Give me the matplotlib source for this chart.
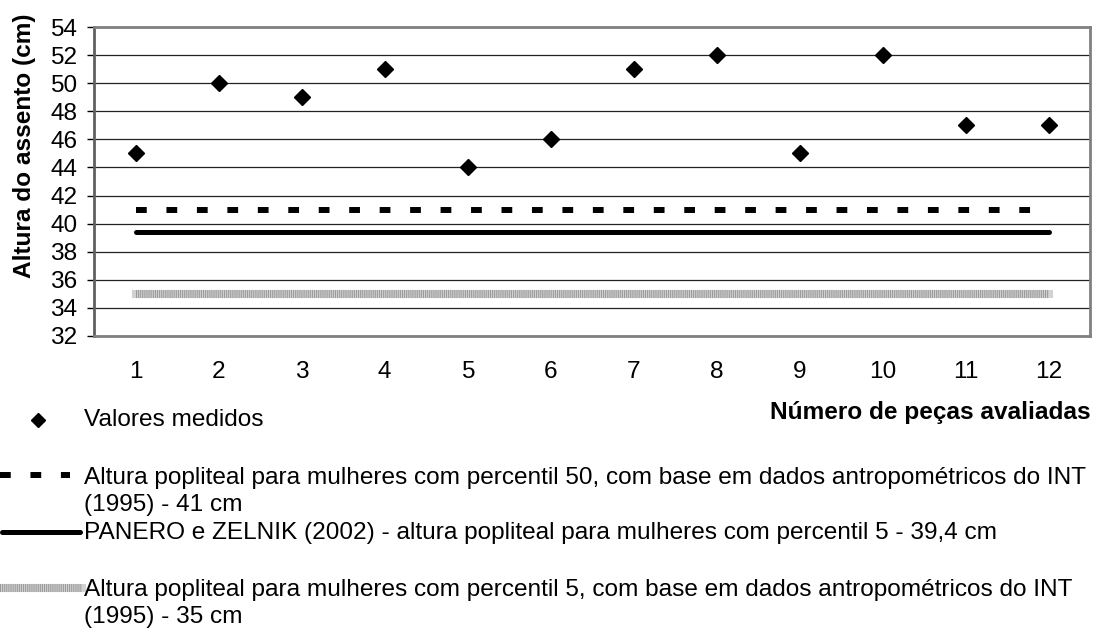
import matplotlib.pyplot as plt
from matplotlib.lines import Line2D

plt.rcParams['font.family'] = ['Liberation Sans', 'DejaVu Sans']

# data
pecas = [1, 2, 3, 4, 5, 6, 7, 8, 9, 10, 11, 12]
valores_medidos = [45, 50, 49, 51, 44, 46, 51, 52, 45, 52, 47, 47]
int_p50 = 41.0
panero_p5 = 39.4
int_p5 = 35.0

labels = [
    "Valores medidos",
    "Altura popliteal para mulheres com percentil 50, com base em dados antropométricos do INT\n(1995) - 41 cm",
    "PANERO e ZELNIK (2002) - altura popliteal para mulheres com percentil 5 - 39,4 cm",
    "Altura popliteal para mulheres com percentil 5, com base em dados antropométricos do INT\n(1995) - 35 cm",
]

W, H = 1094, 630
fig = plt.figure(figsize=(W / 100, H / 100), dpi=100)
ax = fig.add_axes([94 / W, 1 - 336 / H, (1090 - 94) / W, (336 - 27) / H])

FS = 17.6
dash_style = dict(color='black', lw=4.3, dashes=(1.8, 3.3), solid_capstyle='butt',
                  dash_capstyle='butt')
solid_style = dict(color='black', lw=3.6, solid_capstyle='round')
gray_base = dict(color='#d2d2d2', lw=5.8, solid_capstyle='projecting')
gray_stripe = dict(color='#9a9a9a', lw=5.8, dashes=(0.13, 0.13), dash_capstyle='butt')

ax.plot([pecas[0], pecas[-1]], [int_p5] * 2, **gray_base, zorder=2)
ax.plot([pecas[0], pecas[-1]], [int_p5] * 2, **gray_stripe, zorder=2)
ax.plot([pecas[0], pecas[-1]], [panero_p5] * 2, **solid_style, zorder=3)
ax.plot([pecas[0], pecas[-1]], [int_p50] * 2, **dash_style, zorder=3)
ax.plot(pecas, valores_medidos, 'D', color='black', ms=7.8, zorder=4)

ax.set_xlim(0.5, 12.5)
ax.set_ylim(32, 54)
ax.set_yticks(range(32, 55, 2))
ax.set_xticks(pecas)
ax.grid(axis='y', color='#222222', lw=0.9)
ax.set_axisbelow(True)
for s in ax.spines.values():
    s.set_color('#808080')
    s.set_linewidth(2)
ax.spines['left'].set_color('#606060')
ax.tick_params(axis='y', length=5, width=1, color='black', labelsize=FS, pad=7)
ax.tick_params(axis='x', length=0, labelsize=FS, pad=18)
ax.set_ylabel("Altura do assento (cm)", fontsize=FS, fontweight='bold')
ax.yaxis.set_label_coords(-0.058, 0.616)

fig.text(1091 / W, 1 - 412 / H, "Número de peças avaliadas", fontsize=FS,
         fontweight='bold', ha='right', va='center')

# legend drawn below the plot
lax = fig.add_axes([0, 0, 1, 1])
lax.set_xlim(0, W)
lax.set_ylim(H, 0)
lax.axis('off')
lax.plot([38], [420], 'D', color='black', ms=7)
lax.add_line(Line2D([0, 70], [475, 475], **dash_style))
lax.add_line(Line2D([2, 80], [532, 532], **solid_style))
lax.add_line(Line2D([0, 82], [588, 588], **gray_base))
lax.add_line(Line2D([0, 82], [588, 588], **gray_stripe))
tx = 84
lax.text(tx, 420, labels[0], fontsize=FS, va='center')
lax.text(tx, 478, labels[1].split('\n')[0], fontsize=FS, va='center')
lax.text(tx, 505, labels[1].split('\n')[1], fontsize=FS, va='center')
lax.text(tx, 533, labels[2], fontsize=FS, va='center')
lax.text(tx, 590, labels[3].split('\n')[0], fontsize=FS, va='center')
lax.text(tx, 617, labels[3].split('\n')[1], fontsize=FS, va='center')

fig.savefig("out.png", dpi=100)
